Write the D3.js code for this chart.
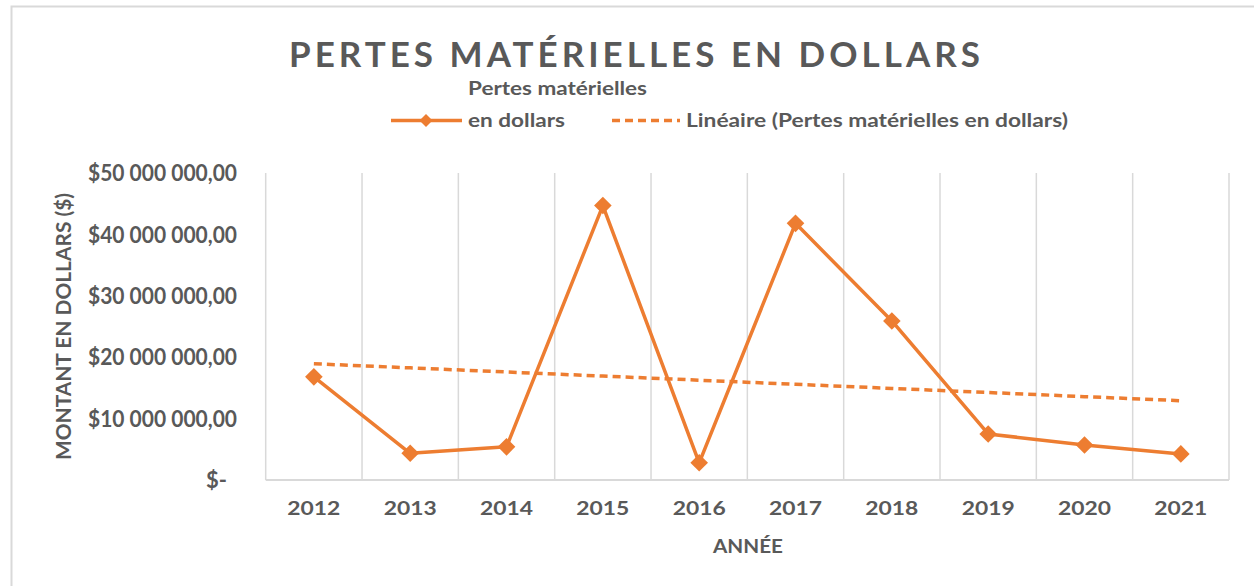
<!DOCTYPE html>
<html>
<head>
<meta charset="utf-8">
<script src="https://cdn.jsdelivr.net/npm/d3@7"></script>
<style>
  body { margin: 0; background: #fff; }
  text { font-family: Lato, "Open Sans", sans-serif; font-weight: bold; fill: #595959; }
</style>
</head>
<body>
<svg id="chart" width="1254" height="586"></svg>
<script>
// data
const years = ['2012', '2013', '2014', '2015', '2016', '2017', '2018', '2019', '2020', '2021'];
const pertes = [16800000, 4350000, 5400000, 44700000, 2800000, 41800000, 25900000, 7500000, 5700000, 4250000];
const yTicks = [0, 10000000, 20000000, 30000000, 40000000, 50000000];

const chartTitle = 'PERTES MATÉRIELLES EN DOLLARS';
const serieName = ['Pertes matérielles', 'en dollars'];
const trendName = 'Linéaire (Pertes matérielles en dollars)';
const xTitle = 'ANNÉE';
const yTitle = 'MONTANT EN DOLLARS ($)';

const orange = '#ED7D31';
const grid = '#d9d9d9';

const margin = { top: 173, left: 265.7, right: 1229, bottom: 480 };

const svg = d3.select('#chart');

// chart frame (cut by the page edge)
svg.append('path')
    .attr('d', 'M11.5,586 V6.5 H1254')
    .attr('fill', 'none')
    .attr('stroke', grid)
    .attr('stroke-width', 2);

const x = d3.scaleBand().domain(years).range([margin.left, margin.right]);
const y = d3.scaleLinear().domain([0, 50000000]).range([margin.bottom, margin.top]);

const fr = d3.formatLocale({ decimal: ',', thousands: '\u00a0', grouping: [3], currency: ['$', ''] });
const money = fr.format('$,.2f');

// vertical grid lines at category edges
const edges = years.map(d => x(d)).concat([margin.right]);
svg.append('g').selectAll('line').data(edges).join('line')
    .attr('x1', d => d).attr('x2', d => d)
    .attr('y1', margin.top).attr('y2', margin.bottom)
    .attr('stroke', grid).attr('stroke-width', 1.5);

svg.append('line')
    .attr('x1', margin.left).attr('x2', margin.right)
    .attr('y1', margin.bottom).attr('y2', margin.bottom)
    .attr('stroke', grid).attr('stroke-width', 2);

// y axis
const yAxis = svg.append('g')
    .attr('transform', 'translate(237,0)')
    .call(d3.axisLeft(y).tickValues(yTicks).tickSize(0).tickPadding(0)
        .tickFormat(d => d === 0 ? '$-' : money(d)));
yAxis.select('.domain').remove();
yAxis.selectAll('text')
    .style('font-size', '22px')
    .attr('fill', null)
    .attr('dy', '0.35em')
    .attr('dx', d => d === 0 ? -10 : 0)
    .attr('textLength', d => d === 0 ? null : 149)
    .attr('lengthAdjust', 'spacingAndGlyphs');

// x axis
const xAxis = svg.append('g')
    .attr('transform', 'translate(0,' + margin.bottom + ')')
    .call(d3.axisBottom(x).tickSize(0).tickPadding(0));
xAxis.select('.domain').remove();
xAxis.selectAll('text')
    .attr('fill', null)
    .attr('y', 28)
    .attr('dy', '0.35em')
    .style('font-size', '19px')
    .attr('textLength', 53)
    .attr('lengthAdjust', 'spacingAndGlyphs');

// axis titles
svg.append('text')
    .attr('x', 748).attr('y', 553)
    .attr('text-anchor', 'middle')
    .style('font-size', '19px')
    .attr('textLength', 70)
    .attr('lengthAdjust', 'spacingAndGlyphs')
    .text(xTitle);

svg.append('text')
    .attr('transform', 'translate(71,326.5) rotate(-90)')
    .attr('text-anchor', 'middle')
    .style('font-size', '21px')
    .attr('textLength', 267)
    .attr('lengthAdjust', 'spacingAndGlyphs')
    .text(yTitle);

// title
svg.append('text')
    .attr('x', 289).attr('y', 67)
    .style('font-size', '35px')
    .attr('textLength', 691)
    .attr('lengthAdjust', 'spacing')
    .text(chartTitle);

// linear trend (least squares over the series, like the spreadsheet does)
const n = pertes.length;
const mx = (n - 1) / 2;
const my = d3.mean(pertes);
let sxy = 0, sxx = 0;
pertes.forEach((v, i) => { sxy += (i - mx) * (v - my); sxx += (i - mx) * (i - mx); });
const slope = sxy / sxx;
const trend = pertes.map((v, i) => my + slope * (i - mx));

const cx = d => x(d) + x.bandwidth() / 2;

svg.append('path')
    .datum(trend)
    .attr('fill', 'none')
    .attr('stroke', orange)
    .attr('stroke-width', 3.5)
    .attr('stroke-dasharray', '8,5')
    .attr('d', d3.line().x((d, i) => cx(years[i])).y(d => y(d)));

// series line
svg.append('path')
    .datum(pertes)
    .attr('fill', 'none')
    .attr('stroke', orange)
    .attr('stroke-width', 3.5)
    .attr('stroke-linejoin', 'round')
    .attr('d', d3.line().x((d, i) => cx(years[i])).y(d => y(d)));

const diamond = d3.symbol().type(d3.symbolSquare).size(155);
svg.append('g').selectAll('path').data(pertes).join('path')
    .attr('d', diamond)
    .attr('fill', orange)
    .attr('transform', (d, i) => 'translate(' + cx(years[i]) + ',' + y(d) + ') rotate(45)');

// legend
const lg = svg.append('g');
lg.append('line')
    .attr('x1', 391).attr('x2', 462).attr('y1', 120.5).attr('y2', 120.5)
    .attr('stroke', orange).attr('stroke-width', 3.5);
lg.append('path')
    .attr('d', d3.symbol().type(d3.symbolSquare).size(85))
    .attr('fill', orange)
    .attr('transform', 'translate(426,120.5) rotate(45)');
lg.append('text')
    .attr('x', 468).attr('y', 88).attr('dy', '0.35em')
    .style('font-size', '19px')
    .attr('textLength', 179)
    .attr('lengthAdjust', 'spacingAndGlyphs')
    .text(serieName[0]);
lg.append('text')
    .attr('x', 468).attr('y', 120).attr('dy', '0.35em')
    .style('font-size', '19px')
    .attr('textLength', 97)
    .attr('lengthAdjust', 'spacingAndGlyphs')
    .text(serieName[1]);
lg.append('line')
    .attr('x1', 612).attr('x2', 680).attr('y1', 120.5).attr('y2', 120.5)
    .attr('stroke', orange).attr('stroke-width', 3.5)
    .attr('stroke-dasharray', '8,5');
lg.append('text')
    .attr('x', 686).attr('y', 120).attr('dy', '0.35em')
    .style('font-size', '19px')
    .attr('textLength', 382)
    .attr('lengthAdjust', 'spacingAndGlyphs')
    .text(trendName);
</script>
</body>
</html>
